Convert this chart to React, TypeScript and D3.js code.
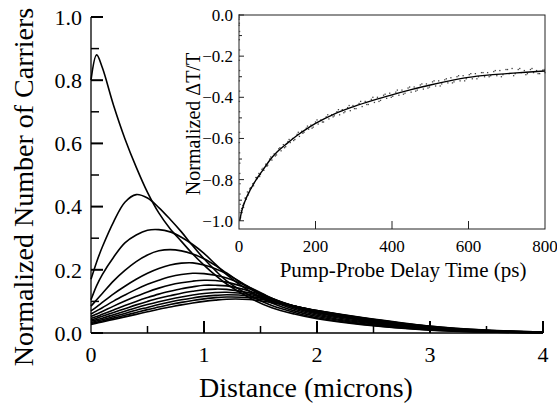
import React from 'react';
import * as d3 from 'd3';

// ---------- main plot data ----------
const distance = [0, 0.05, 0.1, 0.2, 0.3, 0.4, 0.5, 0.6, 0.7, 0.8, 0.9, 1.0, 1.1, 1.2, 1.4, 1.6, 1.8, 2.0, 2.4, 3.0, 3.5, 4.0];
const carriers01 = [0.80, 0.88, 0.84, 0.72, 0.615, 0.525, 0.445, 0.38, 0.33, 0.29, 0.25, 0.215, 0.183, 0.155, 0.112, 0.08, 0.06, 0.045, 0.026, 0.009, 0.003, 0.001];
const carriers02 = [0.17, 0.225, 0.272, 0.352, 0.414, 0.438, 0.427, 0.397, 0.36, 0.32, 0.276, 0.235, 0.198, 0.165, 0.12, 0.087, 0.065, 0.048, 0.028, 0.01, 0.0035, 0.001];
const carriers03 = [0.105, 0.15, 0.185, 0.24, 0.285, 0.31, 0.325, 0.327, 0.32, 0.303, 0.28, 0.252, 0.218, 0.185, 0.133, 0.095, 0.07, 0.052, 0.03, 0.011, 0.004, 0.0012];
const carriers04 = [0.085, 0.105, 0.125, 0.165, 0.198, 0.226, 0.247, 0.26, 0.264, 0.26, 0.25, 0.235, 0.214, 0.19, 0.142, 0.102, 0.075, 0.056, 0.033, 0.012, 0.0045, 0.0015];
const carriers05 = [0.07, 0.083, 0.097, 0.124, 0.148, 0.17, 0.189, 0.204, 0.215, 0.221, 0.222, 0.215, 0.203, 0.187, 0.145, 0.107, 0.079, 0.06, 0.036, 0.013, 0.005, 0.0015];
const carriers06 = [0.06, 0.07, 0.08, 0.101, 0.12, 0.138, 0.154, 0.167, 0.178, 0.185, 0.189, 0.188, 0.183, 0.174, 0.145, 0.11, 0.082, 0.063, 0.039, 0.015, 0.0055, 0.002];
const carriers07 = [0.052, 0.06, 0.068, 0.085, 0.101, 0.116, 0.13, 0.142, 0.152, 0.159, 0.164, 0.167, 0.166, 0.161, 0.14, 0.11, 0.084, 0.065, 0.041, 0.016, 0.006, 0.002];
const carriers08 = [0.046, 0.052, 0.059, 0.073, 0.087, 0.1, 0.112, 0.123, 0.132, 0.14, 0.146, 0.151, 0.151, 0.149, 0.133, 0.108, 0.085, 0.067, 0.043, 0.017, 0.0065, 0.002];
const carriers09 = [0.041, 0.047, 0.053, 0.065, 0.077, 0.089, 0.1, 0.11, 0.118, 0.126, 0.132, 0.137, 0.139, 0.138, 0.127, 0.106, 0.085, 0.068, 0.045, 0.018, 0.007, 0.0025];
const carriers10 = [0.037, 0.042, 0.047, 0.058, 0.069, 0.08, 0.09, 0.099, 0.107, 0.114, 0.12, 0.125, 0.128, 0.129, 0.122, 0.104, 0.085, 0.069, 0.046, 0.019, 0.0075, 0.0025];
const carriers11 = [0.033, 0.038, 0.042, 0.052, 0.062, 0.072, 0.081, 0.09, 0.098, 0.105, 0.111, 0.116, 0.119, 0.121, 0.117, 0.102, 0.085, 0.07, 0.047, 0.02, 0.008, 0.003];
const carriers12 = [0.03, 0.034, 0.038, 0.047, 0.056, 0.065, 0.074, 0.082, 0.09, 0.097, 0.103, 0.108, 0.112, 0.114, 0.112, 0.1, 0.085, 0.071, 0.048, 0.021, 0.0085, 0.003];
const carriers13 = [0.027, 0.031, 0.035, 0.043, 0.051, 0.059, 0.067, 0.075, 0.082, 0.089, 0.095, 0.1, 0.104, 0.107, 0.106, 0.096, 0.084, 0.071, 0.049, 0.022, 0.009, 0.003];
const carrierSeries = [carriers01, carriers02, carriers03, carriers04, carriers05, carriers06, carriers07, carriers08, carriers09, carriers10, carriers11, carriers12, carriers13];

const mainXTicks = [0, 1, 2, 3, 4];
const mainXMinor = [0.5, 1.5, 2.5, 3.5];
const mainYTicks = [0.0, 0.2, 0.4, 0.6, 0.8, 1.0];
const mainYMinor = [0.1, 0.3, 0.5, 0.7, 0.9];

// ---------- inset data ----------
const fitTime = [2, 5, 10, 20, 30, 45, 60, 80, 100, 125, 150, 175, 200, 250, 300, 350, 400, 450, 500, 550, 600, 650, 700, 750, 800];
const fitSignal = [-1.0, -0.97, -0.935, -0.885, -0.848, -0.80, -0.76, -0.707, -0.665, -0.625, -0.588, -0.556, -0.527, -0.48, -0.445, -0.415, -0.388, -0.363, -0.34, -0.32, -0.303, -0.292, -0.285, -0.278, -0.272];

const dataTime = [
  0.5, 0.5, 0.5, 1, 1, 1.5, 1, 1.5, 1, 1.5, 1, 1.5, 1, 1.5, 1, 1.5, 1, 1.5, 2, 2, 2.5, 2.5, 3, 3,
  4, 6, 8, 10, 13, 16, 19, 22, 25, 28, 32, 36, 40, 44, 48, 52, 56, 60, 65, 70, 75, 80, 86, 92, 98,
  104, 110, 116, 122, 128, 134, 140, 146, 152, 158, 164, 170, 176, 182, 188, 194, 200, 207, 214, 221,
  228, 235, 242, 249, 256, 263, 270, 277, 284, 291, 298, 306, 314, 322, 330, 338, 346, 354, 362, 370,
  378, 386, 394, 402, 410, 418, 426, 434, 442, 450, 458, 466, 474, 482, 490, 498, 506, 514, 522, 530,
  538, 546, 554, 562, 570, 578, 586, 594, 602, 610, 618, 626, 634, 642, 650, 658, 666, 674, 682, 690,
  698, 706, 714, 722, 730, 738, 746, 754, 762, 770, 778, 786, 794, 800,
  7, 12, 17, 24, 30, 38, 46, 54, 63, 73, 83, 95, 107, 119, 131, 143, 155, 167, 179, 191, 204, 218,
  232, 246, 260, 274, 288, 302, 318, 334, 350, 366, 382, 398, 414, 430, 446, 462, 478, 494, 510, 526,
  542, 558, 574, 590, 606, 622, 638, 654, 670, 686, 702, 718, 734, 750, 766, 782, 798,
];
const dataSignal = [
  0.0, -0.02, -0.05, -0.01, -0.04, -0.08, -0.12, -0.17, -0.22, -0.27, -0.32, -0.37, -0.42, -0.47, -0.52, -0.57, -0.62, -0.67, -0.72, -0.77, -0.82, -0.87, -0.92, -0.96,
  -0.985, -0.95, -0.96, -0.925, -0.915, -0.89, -0.895, -0.86, -0.865, -0.845, -0.84, -0.82, -0.815, -0.79, -0.795, -0.77, -0.775, -0.75, -0.755, -0.725, -0.73, -0.70, -0.705, -0.675, -0.68,
  -0.65, -0.66, -0.63, -0.64, -0.615, -0.62, -0.60, -0.605, -0.58, -0.59, -0.565, -0.57, -0.55, -0.555, -0.535, -0.545, -0.52, -0.53, -0.51, -0.52,
  -0.495, -0.505, -0.485, -0.49, -0.47, -0.485, -0.46, -0.47, -0.45, -0.465, -0.44, -0.455, -0.43, -0.445, -0.42, -0.435, -0.41, -0.425, -0.40, -0.415,
  -0.39, -0.405, -0.38, -0.395, -0.375, -0.39, -0.365, -0.38, -0.355, -0.375, -0.35, -0.365, -0.34, -0.36, -0.335, -0.35, -0.325, -0.345, -0.32, -0.335,
  -0.315, -0.33, -0.305, -0.325, -0.30, -0.32, -0.295, -0.31, -0.29, -0.31, -0.285, -0.30, -0.28, -0.30, -0.28, -0.295, -0.275, -0.295, -0.27, -0.29,
  -0.265, -0.285, -0.26, -0.285, -0.265, -0.28, -0.27, -0.285, -0.265, -0.28, -0.27, -0.285, -0.268, -0.28,
  -0.94, -0.935, -0.89, -0.875, -0.84, -0.83, -0.79, -0.785, -0.745, -0.735, -0.69, -0.685, -0.645, -0.645, -0.605, -0.61, -0.57, -0.575, -0.54, -0.55, -0.51, -0.52,
  -0.485, -0.495, -0.46, -0.475, -0.44, -0.455, -0.42, -0.435, -0.40, -0.42, -0.385, -0.40, -0.365, -0.385, -0.35, -0.37, -0.335, -0.355, -0.32, -0.345,
  -0.31, -0.33, -0.295, -0.32, -0.285, -0.31, -0.28, -0.30, -0.27, -0.30, -0.265, -0.295, -0.26, -0.29, -0.26, -0.285, -0.265,
];

const insetXTicks = [0, 200, 400, 600, 800];
const insetYTicks = [0.0, -0.2, -0.4, -0.6, -0.8, -1.0];
const insetYMinor = [-0.1, -0.3, -0.5, -0.7, -0.9];

const FONT = "'Liberation Serif', 'FreeSerif', 'DejaVu Serif', serif";
const tx = { fontFamily: FONT };

export default function App() {
  const x = d3.scaleLinear().domain([0, 4]).range([91, 543]);
  const y = d3.scaleLinear().domain([0, 1]).range([333, 17]);
  const line = d3
    .line<number>()
    .x((_, i) => x(distance[i]))
    .y((d) => y(d))
    .curve(d3.curveCatmullRom.alpha(0.5));

  const ix = d3.scaleLinear().domain([0, 800]).range([239, 545]);
  const iy = d3.scaleLinear().domain([-1.04, 0]).range([229, 15]);
  const fitLine = d3
    .line<number>()
    .x((_, i) => ix(fitTime[i]))
    .y((d) => iy(d))
    .curve(d3.curveMonotoneX);

  const fmt1 = d3.format('.1f');

  return (
    <div style={{ position: 'absolute', left: 0, top: 0 }}>
      <svg width={557} height={418} style={{ display: 'block', background: '#fff', fontFamily: FONT }}>
        <rect x={0} y={0} width={557} height={418} fill="#fff" />
        {/* main curves */}
        <g fill="none" stroke="#000" strokeWidth={1.6}>
          {carrierSeries.map((s, k) => (
            <path key={k} d={line(s) || ''} />
          ))}
        </g>
        {/* main axes */}
        <g stroke="#000">
          <line x1={x(0)} x2={x(0)} y1={y(0)} y2={y(1)} strokeWidth={1.3} />
          <line x1={x(0)} x2={x(4)} y1={y(0)} y2={y(0)} strokeWidth={1.3} />
          {mainYTicks.map((t) => (
            <line key={'yt' + t} x1={x(0)} x2={x(0) + 12} y1={y(t)} y2={y(t)} strokeWidth={2} />
          ))}
          {mainYMinor.map((t) => (
            <line key={'ym' + t} x1={x(0)} x2={x(0) + 8} y1={y(t)} y2={y(t)} strokeWidth={1.5} />
          ))}
          {mainXTicks.slice(1).map((t) => (
            <line key={'xt' + t} x1={x(t)} x2={x(t)} y1={y(0)} y2={y(0) - 12} strokeWidth={2} />
          ))}
          {mainXMinor.map((t) => (
            <line key={'xm' + t} x1={x(t)} x2={x(t)} y1={y(0)} y2={y(0) - 7} strokeWidth={1.5} />
          ))}
        </g>
        <g fontSize={22} fill="#000">
          {mainYTicks.map((t) => (
            <text key={'yl' + t} style={tx} x={82} y={y(t)} dy="0.35em" textAnchor="end">
              {fmt1(t)}
            </text>
          ))}
          {mainXTicks.map((t) => (
            <text key={'xl' + t} style={tx} x={x(t)} y={362} textAnchor="middle">
              {t}
            </text>
          ))}
        </g>
        <text style={tx} x={306} y={397} fontSize={28} textAnchor="middle" fill="#000">
          Distance (microns)
        </text>
        <text
          style={tx}
          transform="translate(33,187) rotate(-90)"
          fontSize={28}
          textAnchor="middle"
          fill="#000"
        >
          Normalized Number of Carriers
        </text>

        {/* inset */}
        <rect x={ix(0)} y={iy(0)} width={ix(800) - ix(0)} height={iy(-1.04) - iy(0)} fill="#fff" stroke="#222" strokeWidth={1} />
        <g fill="#444">
          {dataTime.map((t, i) => (
            <rect key={'d' + i} x={ix(t) - 0.65} y={iy(dataSignal[i]) - 0.65} width={1.3} height={1.3} />
          ))}
        </g>
        <path d={fitLine(fitSignal) || ''} fill="none" stroke="#000" strokeWidth={1.4} />
        <g stroke="#222">
          {insetYTicks.map((t) => (
            <line key={'iyt' + t} x1={ix(0)} x2={ix(0) + 5} y1={iy(t)} y2={iy(t)} strokeWidth={1} />
          ))}
          {insetYMinor.map((t) => (
            <line key={'iym' + t} x1={ix(0)} x2={ix(0) + 3} y1={iy(t)} y2={iy(t)} strokeWidth={1} />
          ))}
          {insetXTicks.slice(1, 4).map((t) => (
            <line key={'ixt' + t} x1={ix(t)} x2={ix(t)} y1={iy(-1.04)} y2={iy(-1.04) - 8} strokeWidth={1} />
          ))}
        </g>
        <g fontSize={17} fill="#000">
          {insetYTicks.map((t) => (
            <text key={'iyl' + t} style={tx} x={233} y={iy(t)} dy="0.35em" textAnchor="end">
              {fmt1(t)}
            </text>
          ))}
          {insetXTicks.map((t) => (
            <text key={'ixl' + t} style={tx} x={ix(t)} y={252} textAnchor="middle">
              {t}
            </text>
          ))}
        </g>
        <text style={tx} x={403} y={277} fontSize={21} textAnchor="middle" fill="#000">
          Pump-Probe Delay Time (ps)
        </text>
        <text style={tx} transform="translate(200,124) rotate(-90)" fontSize={20} textAnchor="middle" fill="#000">
          Normalized ΔT/T
        </text>
      </svg>
    </div>
  );
}
